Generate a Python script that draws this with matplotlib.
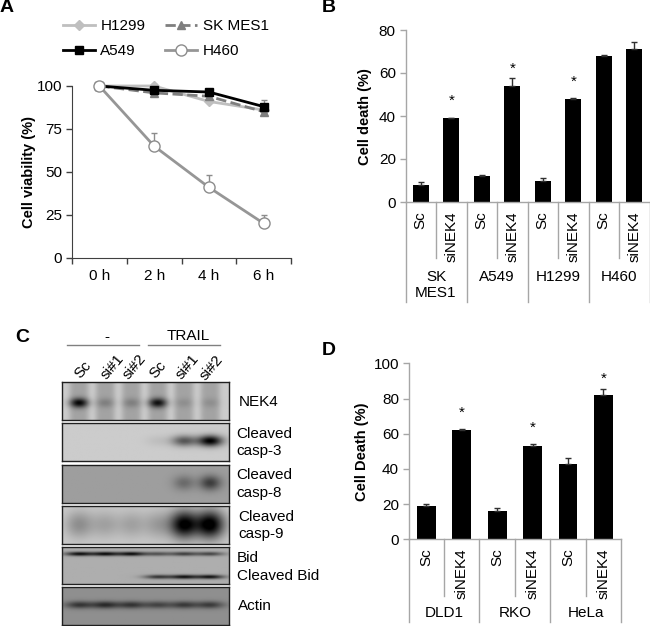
import numpy as np
import matplotlib
matplotlib.use("Agg")
import matplotlib.pyplot as plt

plt.rcParams["font.family"] = ["Liberation Sans", "DejaVu Sans"]
plt.rcParams["font.size"] = 10

W, H = 650, 626

# ---------- panel A ----------
hours = ["0 h", "2 h", "4 h", "6 h"]
h1299 = [100, 100, 91, 86]
h1299_err = [0, 1, 1, 2]
skmes1 = [100, 96, 94, 85]
skmes1_err = [0, 2, 2, 3]
a549 = [100, 97.5, 96.5, 88]
a549_err = [0, 1, 1.5, 4]
h460 = [100, 65, 41, 20]
h460_err = [0, 7.5, 7, 5]

# ---------- panel B ----------
b_labels = ["Sc", "siNEK4"] * 4
b_values = [8, 39, 12, 54, 10, 48, 68, 71]
b_err = [1.2, 0.3, 0.7, 3.5, 1.2, 0.2, 0.5, 3.5]
b_groups = ["SK\nMES1", "A549", "H1299", "H460"]
b_star_y = [None, 47, None, 62, None, 56, None, None]

# ---------- panel D ----------
d_labels = ["Sc", "siNEK4"] * 3
d_values = [19, 62, 16, 53, 43, 82]
d_err = [1, 0.4, 1.8, 1, 3.3, 3.5]
d_groups = ["DLD1", "RKO", "HeLa"]
d_star_y = [None, 72, None, 63.5, None, 91]

# ---------- panel C ----------
lanes = ["Sc", "si#1", "si#2", "Sc", "si#1", "si#2"]
nek4_bands = [0.62, 0.14, 0.14, 0.58, 0.08, 0.08]
casp3_bands = [0, 0, 0, 0.05, 0.45, 0.8]
casp8_bands = [0, 0, 0, 0, 0.2, 0.38]
casp9_bands = [0.24, 0.16, 0.16, 0.18, 0.82, 0.85]
bid_bands = [0.62, 0.62, 0.62, 0.34, 0.42, 0.4]
cbid_bands = [0, 0, 0, 0.46, 0.6, 0.6]
actin_bands = [0.34, 0.38, 0.34, 0.28, 0.32, 0.32]


def px_axes(x0, y0, x1, y1):
    # pixel box, measured from top left of the image
    return fig.add_axes([x0 / W, 1 - y1 / H, (x1 - x0) / W, (y1 - y0) / H])


def px_text(x, y, s, **kw):
    kw.setdefault("ha", "center")
    kw.setdefault("va", "center")
    fig.text(x / W, 1 - y / H, s, **kw)


def bar_panel(box, labels, values, err, groups, star_y, ylim, yticks, short_px, long_px, group_y):
    ax = px_axes(*box)
    x = np.arange(len(values))
    ax.bar(x, values, width=0.53, color="black")
    ax.errorbar(x, values, yerr=[np.zeros(len(err)), err], fmt="none", ecolor="#303030",
                elinewidth=1, capsize=2.5, capthick=1)
    ax.set_xlim(-0.5, len(values) - 0.5)
    ax.set_ylim(*ylim)
    ax.set_yticks(yticks)
    ax.set_xticks([])
    ax.tick_params(axis="y", color="#a6a6a6", length=4, width=1, labelsize=11, pad=3)
    for s in ["top", "right"]:
        ax.spines[s].set_visible(False)
    for s in ["left", "bottom"]:
        ax.spines[s].set_color("#a6a6a6")
        ax.spines[s].set_linewidth(1)

    # two level category axis under the bars
    n_per = len(values) // len(groups)
    for i in range(len(values) + 1):
        length = long_px if i % n_per == 0 else short_px
        ax.plot([i - 0.5, i - 0.5], [0, -length / (box[3] - box[1])],
                transform=ax.get_xaxis_transform(), color="#a6a6a6", lw=1, clip_on=False)
    for i, lab in enumerate(labels):
        ax.annotate(lab, xy=(i, 0), xycoords=ax.get_xaxis_transform(), xytext=(0, -9),
                    textcoords="offset pixels", rotation=90, ha="center", va="top", fontsize=11)
    for j, g in enumerate(groups):
        ax.annotate(g, xy=(j * n_per + (n_per - 1) / 2, 0), xycoords=ax.get_xaxis_transform(),
                    xytext=(0, -group_y), textcoords="offset pixels", ha="center", va="top",
                    fontsize=11, linespacing=1.15)
    for i, sy in enumerate(star_y):
        if sy is not None:
            ax.text(i, sy, "*", ha="center", va="center", fontsize=11)
    return ax


def blot(box, bg, bands, sx=0.055, smear=0.0):
    # bands = list of (lane strengths, vertical position, vertical width)
    ax = px_axes(*box)
    nx, ny = 170, 40
    xx, yy = np.meshgrid(np.linspace(0, 1, nx), np.linspace(0, 1, ny))
    img = np.full((ny, nx), float(bg))
    centers = np.linspace(0.1, 0.89, 6)
    for strengths, yc, sy in bands:
        for c, a in zip(centers, strengths):
            img -= a * np.exp(-((xx - c) / sx) ** 2 - ((yy - yc) / sy) ** 2)
    if smear:
        for c in centers:
            img -= smear * np.exp(-((xx - c) / 0.06) ** 4)
    ax.imshow(img, cmap="gray", vmin=0, vmax=1, aspect="auto", extent=[0, 1, 1, 0], interpolation="bilinear")
    ax.set_xticks([])
    ax.set_yticks([])
    for s in ax.spines.values():
        s.set_linewidth(1)
        s.set_color("#202020")
    return ax


fig = plt.figure(figsize=(W / 100, H / 100), dpi=100)

# ---------- A ----------
ax = px_axes(72, 86, 291, 257.7)
x = np.arange(len(hours))
series = [
    (h1299, h1299_err, "#bfbfbf", "D", "-", "#bfbfbf", "H1299"),
    (skmes1, skmes1_err, "#7f7f7f", "^", "--", "#7f7f7f", "SK MES1"),
    (a549, a549_err, "black", "s", "-", "black", "A549"),
    (h460, h460_err, "#969696", "o", "-", "white", "H460"),
]
for vals, err, col, mk, ls, mfc, name in series:
    ax.errorbar(x, vals, yerr=[np.zeros(4), err], fmt="none", ecolor="#8c8c8c", elinewidth=1,
                capsize=2.5, capthick=1, clip_on=False)
    ax.plot(x, vals, color=col, ls=ls, lw=2, marker=mk, ms=5.5 if mk != "o" else 8, mfc=mfc,
            mec=col if mk != "o" else "#8c8c8c", mew=1, label=name, clip_on=False)
ax.set_xlim(-0.5, 3.5)
ax.set_ylim(0, 100)
ax.set_yticks([0, 25, 50, 75, 100])
ax.set_xticks(np.arange(-0.5, 4))
ax.set_xticklabels([])
ax.set_xticks(x, minor=True)
ax.set_xticklabels(hours, minor=True)
ax.tick_params(axis="x", which="minor", length=0, pad=8, labelsize=11)
ax.tick_params(axis="x", which="major", length=4, width=1, color="#404040")
ax.tick_params(axis="y", length=4, width=1, color="#404040", labelsize=11, pad=3)
for s in ["top", "right"]:
    ax.spines[s].set_visible(False)
for s in ["left", "bottom"]:
    ax.spines[s].set_color("#404040")
handles, names = ax.get_legend_handles_labels()
order = [0, 2, 1, 3]
fig.legend([handles[i] for i in order], [names[i] for i in order], ncol=2, frameon=False,
           loc="upper left", bbox_to_anchor=(63 / W, 1 - 19 / H), fontsize=11, handlelength=2.1,
           handletextpad=0.35, columnspacing=1.3, labelspacing=0.75, borderpad=0, borderaxespad=0)
px_text(29, 172, "Cell viability (%)", rotation=90, fontweight="bold", fontsize=10.5)

# ---------- B ----------
bar_panel((405.5, 30, 649.5, 202), b_labels, b_values, b_err, b_groups, b_star_y, (0, 80),
          [0, 20, 40, 60, 80], 56, 100, 68)
px_text(365, 117, "Cell death (%)", rotation=90, fontweight="bold", fontsize=10.5)

# ---------- D ----------
bar_panel((408.7, 363.3, 621, 539.3), d_labels, d_values, d_err, d_groups, d_star_y, (0, 100),
          [0, 20, 40, 60, 80, 100], 57, 83, 67)
px_text(362, 452, "Cell Death (%)", rotation=90, fontweight="bold", fontsize=10.5)

# ---------- C ----------
blot((62, 382.3, 228.7, 420.3), 0.8, [(nek4_bands, 0.55, 0.13)], smear=0.16)
blot((62, 423.3, 228.7, 461.3), 0.8, [(casp3_bands, 0.47, 0.15)], sx=0.075)
blot((62, 464.7, 228.7, 502.7), 0.62, [(casp8_bands, 0.47, 0.2)], sx=0.065)
blot((62, 505.7, 228.7, 543.7), 0.8, [(casp9_bands, 0.5, 0.36)], sx=0.085)
blot((62, 546.7, 228.7, 584.3), 0.68, [(bid_bands, 0.2, 0.055), (cbid_bands, 0.82, 0.055)], sx=0.085)
blot((62, 587.3, 228.7, 625.3), 0.56, [(actin_bands, 0.47, 0.1)], sx=0.085)

fig.add_artist(plt.Line2D([67 / W, 139 / W], [1 - 344.7 / H] * 2, color="#808080", lw=1))
fig.add_artist(plt.Line2D([148 / W, 220 / W], [1 - 344.7 / H] * 2, color="#808080", lw=1))
px_text(107, 337, "-", fontsize=11)
px_text(188, 336, "TRAIL", fontsize=11)
lane_px = [83, 112, 134, 158, 187, 211]
lane_py = [370, 367, 367, 370, 367, 368]
for lx, ly, lab in zip(lane_px, lane_py, lanes):
    px_text(lx, ly, lab, rotation=50, rotation_mode="anchor", fontsize=11)

blot_text = [(239, 402, "NEK4"), (236, 434, "Cleaved"), (236, 451, "casp-3"), (236, 475, "Cleaved"),
             (236, 493, "casp-8"), (238, 517, "Cleaved"), (238, 534, "casp-9"), (237, 558, "Bid"),
             (237, 576, "Cleaved Bid"), (238, 606, "Actin")]
for bx, by, lab in blot_text:
    px_text(bx, by, lab, ha="left", fontsize=11)

# ---------- panel letters ----------
for lx, ly, lab in [(7, 8, "A"), (329, 8, "B"), (22, 338, "C"), (329, 350, "D")]:
    px_text(lx, ly, lab, fontweight="bold", fontsize=14)

fig.savefig("out.png", dpi=100)
